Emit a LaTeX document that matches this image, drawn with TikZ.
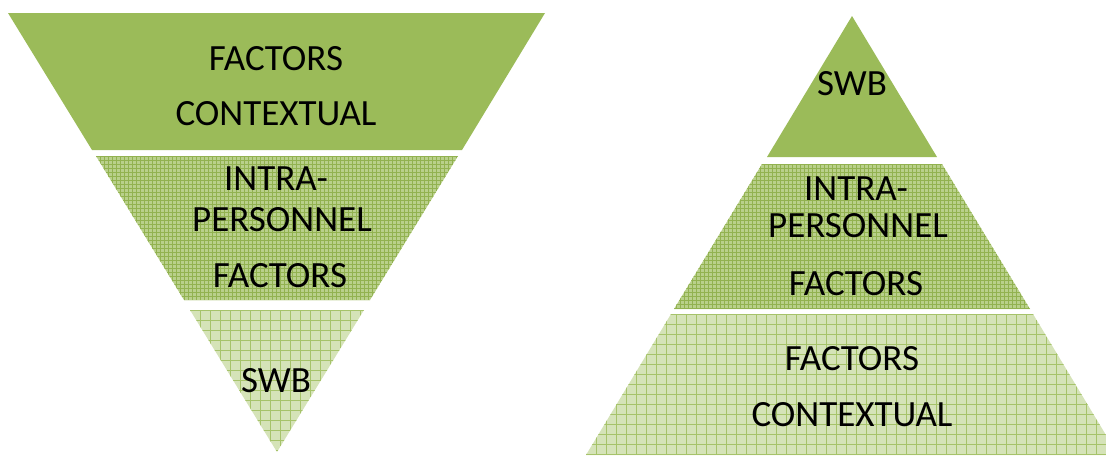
\documentclass[tikz,border=0pt]{standalone}
\usepackage{fontspec}
\setmainfont{Carlito}
\definecolor{olivedark}{HTML}{9BBB59}
\definecolor{olivemid}{HTML}{B9D08B}
\definecolor{olivemidline}{HTML}{92B250}
\definecolor{olivelight}{HTML}{D5E3B8}
\definecolor{olivelightline}{HTML}{A6C36A}
\tikzset{
  lbl/.style={anchor=base,inner sep=0pt,font=\fontsize{18.5}{22}\selectfont},
  fineline/.style={olivemidline,line width=0.3pt},
  gridline/.style={olivelightline,line width=0.5pt}
}
\begin{document}
\begin{tikzpicture}[x=0.5pt,y=-0.5pt]
\clip (0,0) rectangle (1106,455);

% upside-down pyramid
\fill[olivedark] (8,13) -- (545,13) -- (462,150) -- (92,150) -- cycle;
\fill[olivemid] (96,156) -- (458,156) -- (370,300) -- (184,300) -- cycle;
\begin{scope}
  \clip (96,156) -- (458,156) -- (370,300) -- (184,300) -- cycle;
  \foreach \gx in {96,100,...,460} \draw[fineline] (\gx,156) -- (\gx,300);
  \foreach \gy in {156,160,...,300} \draw[fineline] (96,\gy) -- (460,\gy);
\end{scope}
\fill[olivelight] (190,310) -- (364,310) -- (277,452) -- cycle;
\begin{scope}
  \clip (190,310) -- (364,310) -- (277,452) -- cycle;
  \foreach \gx in {190,200,...,370} \draw[gridline] (\gx,310) -- (\gx,455);
  \foreach \gy in {310,320,...,455} \draw[gridline] (190,\gy) -- (370,\gy);
\end{scope}

\node[lbl] (lctxA) at (276,70) {FACTORS};
\node[lbl] (lctxB) at (276,125) {CONTEXTUAL};
\node[lbl] (lintA) at (276,190) {INTRA-};
\node[lbl] (lintB) at (282,231) {PERSONNEL};
\node[lbl] (lintC) at (280,287) {FACTORS};
\node[lbl] (lswb) at (276,392) {SWB};

% upright pyramid
\fill[olivedark] (852,16) -- (937,157) -- (767,157) -- cycle;
\fill[olivemid] (762,164) -- (942,164) -- (1030,309) -- (674,309) -- cycle;
\begin{scope}
  \clip (762,164) -- (942,164) -- (1030,309) -- (674,309) -- cycle;
  \foreach \gx in {672,676,...,1032} \draw[fineline] (\gx,164) -- (\gx,309);
  \foreach \gy in {164,168,...,309} \draw[fineline] (672,\gy) -- (1032,\gy);
\end{scope}
\fill[olivelight] (671,314) -- (1033,314) -- (1118,455) -- (586,455) -- cycle;
\begin{scope}
  \clip (671,314) -- (1033,314) -- (1118,455) -- (586,455) -- cycle;
  \foreach \gx in {586,596,...,1116} \draw[gridline] (\gx,314) -- (\gx,455);
  \foreach \gy in {314,324,...,455} \draw[gridline] (586,\gy) -- (1118,\gy);
\end{scope}

\node[lbl] (rswb) at (852,95) {SWB};
\node[lbl] (rintA) at (856,200) {INTRA-};
\node[lbl] (rintB) at (858,237) {PERSONNEL};
\node[lbl] (rintC) at (856,295) {FACTORS};
\node[lbl] (rctxA) at (852,370) {FACTORS};
\node[lbl] (rctxB) at (852,426) {CONTEXTUAL};
\end{tikzpicture}
\end{document}
